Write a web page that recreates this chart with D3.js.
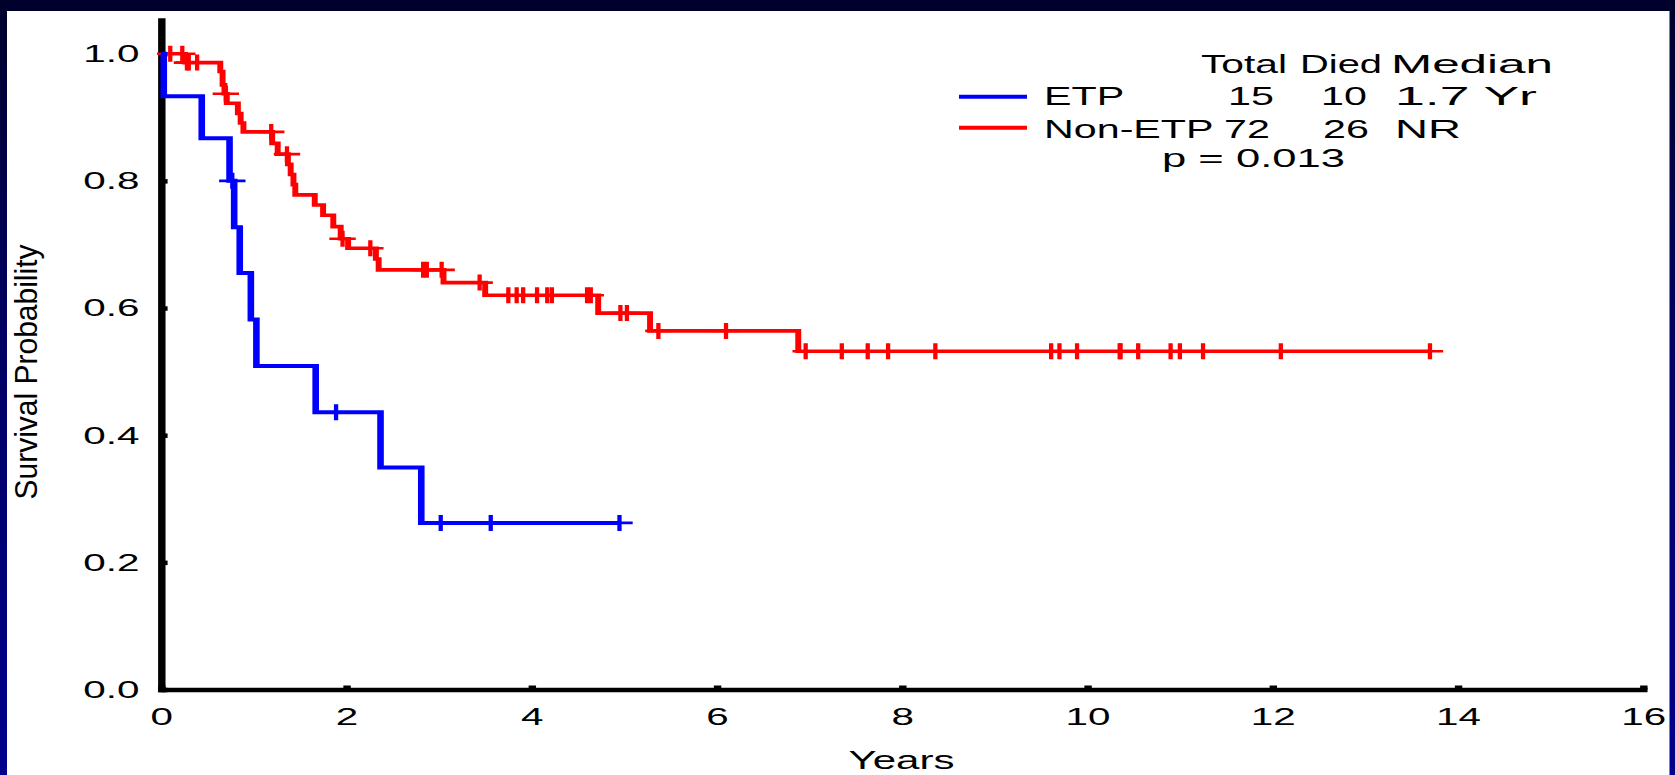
<!DOCTYPE html>
<html>
<head>
<meta charset="utf-8">
<script src="https://cdn.jsdelivr.net/npm/d3@7"></script>
<style>
  html, body { margin: 0; padding: 0; overflow: hidden; background: #000040; }
  svg { display: block; }
  text { font-family: "Liberation Sans", Arial, Helvetica, sans-serif; fill: #000; }
</style>
</head>
<body>
<svg id="chart" width="1675" height="775"></svg>
<script>
// ---- Kaplan-Meier data (years, survival probability) ----
// ETP group: step times and survival level after each step
const etpTimes    = [0, 0.03, 0.44, 0.74, 0.79, 0.85, 0.97, 1.03, 1.67, 2.37, 2.81];
const etpSurvival = [1.0, 0.933, 0.867, 0.800, 0.727, 0.655, 0.582, 0.509, 0.436, 0.349, 0.262];
const etpCensored = [0.77, 1.89, 3.02, 3.56, 4.95];

// Non-ETP group
const nonEtpTimes    = [0, 0.26, 0.64, 0.665, 0.685, 0.71, 0.83, 0.86, 0.89, 1.20, 1.26, 1.37, 1.40, 1.43, 1.45,
                        1.66, 1.75, 1.86, 1.94, 2.02, 2.32, 2.35, 3.05, 3.50, 4.72, 5.28, 6.88];
const nonEtpSurvival = [1.0, 0.986, 0.972, 0.951, 0.937, 0.922, 0.906, 0.891, 0.877, 0.859, 0.842, 0.826, 0.810, 0.794, 0.778,
                        0.762, 0.746, 0.728, 0.709, 0.694, 0.677, 0.660, 0.640, 0.620, 0.592, 0.564, 0.532];
const nonEtpCensored = [0.10, 0.23, 0.28, 0.30, 0.39, 0.70, 1.19, 1.36, 1.96, 2.26, 2.83, 2.87, 3.03, 3.44,
                        3.75, 3.84, 3.91, 4.06, 4.17, 4.22, 4.60, 4.64, 4.96, 5.03, 5.37, 6.10,
                        6.96, 7.35, 7.63, 7.85, 8.36, 9.61, 9.70, 9.89, 10.35, 10.36, 10.55, 10.90, 11.00,
                        11.25, 12.09, 13.70];

// Axis ticks
const xTickValues = [0, 2, 4, 6, 8, 10, 12, 14, 16];
const yTickValues = [0, 0.2, 0.4, 0.6, 0.8, 1.0];

// Legend table
const legendHeader = ["Total", "Died", "Median"];
const groupNames   = ["ETP", "Non-ETP"];
const groupTotals  = [15, 72];
const groupDied    = [10, 26];
const groupMedians = ["1.7 Yr", "NR"];
const pValueText   = "p = 0.013";
const groupColors  = ["#0000ff", "#ff0000"];

// ---- Layout ----
const W = 1675, H = 775;
const SX = 1.65;              // horizontal stretch of the whole drawing
const svg = d3.select("#chart");

// navy frame
const defs = svg.append("defs");
const grad = defs.append("linearGradient").attr("id", "frame").attr("x1", 0).attr("y1", 0).attr("x2", 0).attr("y2", 1);
grad.append("stop").attr("offset", "0%").attr("stop-color", "#00002c");
grad.append("stop").attr("offset", "45%").attr("stop-color", "#000064");
grad.append("stop").attr("offset", "100%").attr("stop-color", "#00008c");
svg.append("rect").attr("width", W).attr("height", H).attr("fill", "url(#frame)");
svg.append("rect").attr("x", 7).attr("y", 11).attr("width", 1662.5).attr("height", H - 11).attr("fill", "#fff");

const g = svg.append("g").attr("transform", `scale(${SX},1)`);

const x = d3.scaleLinear().domain([0, 16]).range([161 / SX, 1643 / SX]);
const y = d3.scaleLinear().domain([0, 1.053]).range([689.5, 20]);

// ---- Axes ----
const yAxis = g.append("g")
  .attr("transform", `translate(${x(0)},0)`)
  .call(d3.axisLeft(y).tickValues(yTickValues).tickFormat(d3.format(".1f"))
        .tickSizeInner(-4).tickSizeOuter(0).tickPadding(13));
const xAxis = g.append("g")
  .attr("transform", `translate(0,${y(0)})`)
  .call(d3.axisBottom(x).tickValues(xTickValues).tickFormat(d3.format("d"))
        .tickSizeInner(-4).tickSizeOuter(0).tickPadding(18.5));

[yAxis, xAxis].forEach(a => {
  a.select(".domain").attr("stroke", "#000").attr("stroke-width", 4.5).attr("stroke-linecap", "square");
  a.selectAll(".tick line").attr("stroke", "#000").attr("stroke-width", 4.5);
  a.selectAll(".tick text").attr("font-size", 24.5)
    .attr("font-family", '"Liberation Sans", Arial, sans-serif').attr("fill", "#000");
});

// axis titles
g.append("text")
  .attr("x", 901.5 / SX).attr("y", 769)
  .attr("text-anchor", "middle").attr("font-size", 25.5)
  .text("Years");

g.append("text")
  .attr("transform", `translate(${28 / SX},372) rotate(-90)`)
  .attr("text-anchor", "middle").attr("dy", "0.3em").attr("font-size", 19)
  .attr("textLength", 255).attr("lengthAdjust", "spacingAndGlyphs")
  .text("Survival Probability");

// ---- Survival curves ----
function survivalAt(times, surv, t) {
  let s = surv[0];
  for (let i = 0; i < times.length; i++) if (times[i] <= t) s = surv[i];
  return s;
}

const stepLine = d3.line().x(d => x(d[0])).y(d => y(d[1])).curve(d3.curveStepAfter);

const series = [
  { times: nonEtpTimes, surv: nonEtpSurvival, cens: nonEtpCensored, color: groupColors[1], width: 3.6 },
  { times: etpTimes,    surv: etpSurvival,    cens: etpCensored,    color: groupColors[0], width: 4 }
];

series.forEach(s => {
  const pts = s.times.map((t, i) => [t, s.surv[i]]);
  const end = d3.max(s.cens);
  pts.push([end, s.surv[s.surv.length - 1]]);
  g.append("path")
    .attr("d", stepLine(pts))
    .attr("fill", "none").attr("stroke", s.color)
    .attr("stroke-width", s.width).attr("stroke-linejoin", "miter");
  g.append("g").selectAll("path").data(s.cens).join("path")
    .attr("transform", t => `translate(${x(t)},${y(survivalAt(s.times, s.surv, t))})`)
    .attr("d", "M-8,0H8M0,-8V8")
    .attr("fill", "none").attr("stroke", s.color).attr("stroke-width", 2.6);
});

// ---- Legend ----
const lg = g.append("g").attr("font-size", 25);
function cell(text, xFull, yBase, anchor, widthFull) {
  const t = lg.append("text").attr("x", xFull / SX).attr("y", yBase)
    .attr("text-anchor", anchor || "start").text(text);
  if (widthFull) t.attr("textLength", widthFull / SX).attr("lengthAdjust", "spacingAndGlyphs");
  return t;
}
const headerX = [1201, 1300, 1391];
const headerW = [86, 82, 162];
legendHeader.forEach((h, i) => cell(h, headerX[i], 73, "start", headerW[i]));

const rowY = [105, 138];
const lineY = [96.7, 127.8];
const totalEnd = [1274, 1270];
const diedEnd = [1367, 1369];
const medianW = [142, 66];
groupNames.forEach((name, i) => {
  lg.append("line")
    .attr("x1", 959 / SX).attr("x2", 1027 / SX)
    .attr("y1", lineY[i]).attr("y2", lineY[i])
    .attr("stroke", groupColors[i]).attr("stroke-width", 4);
  cell(name, 1044, rowY[i]);
  cell(groupTotals[i], totalEnd[i], rowY[i], "end");
  cell(groupDied[i], diedEnd[i], rowY[i], "end");
  cell(groupMedians[i], 1395, rowY[i], "start", medianW[i]);
});
cell(pValueText, 1162, 167, "start", 183);
</script>
</body>
</html>
